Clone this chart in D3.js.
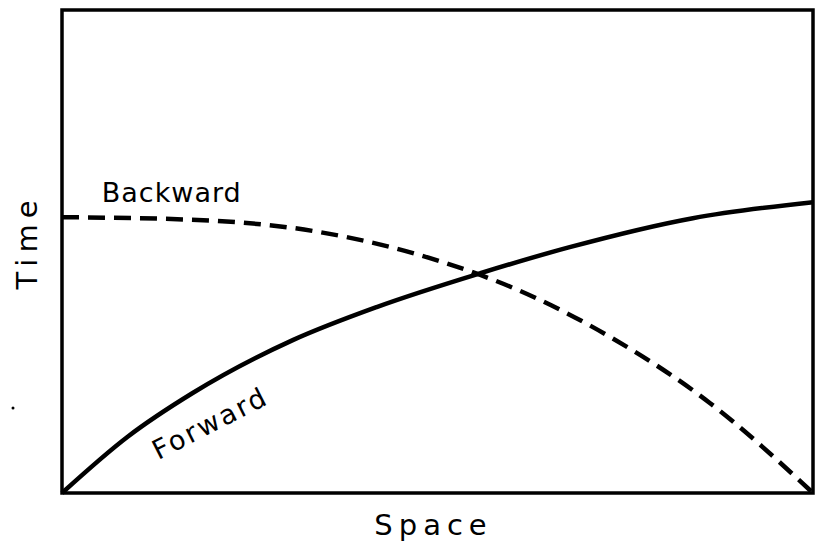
<!DOCTYPE html>
<html>
<head>
<meta charset="utf-8">
<script src="https://cdn.jsdelivr.net/npm/d3@7"></script>
<style>
  body { margin: 0; background: #fff; }
  text { font-family: "DejaVu Sans", sans-serif; fill: #000; }
</style>
</head>
<body>
<div id="chart"></div>
<script>
// Values (space 0-100, time 0-100)
const forwardSpace = [0, 8.7, 17.4, 30.8, 41.9, 55.7, 67.6, 84.0, 100];
const forwardTime  = [0, 11.6, 20.7, 31.7, 38.5, 45.5, 50.9, 56.9, 60.2];
const backwardSpace = [0, 17.0, 34.4, 50.7, 59.7, 73.0, 86.3, 100];
const backwardTime  = [57.1, 56.6, 54.0, 47.8, 42.7, 32.3, 18.6, 0];

const width = 818;
const height = 549;
const margin = {top: 10, right: 5, bottom: 56, left: 62};

const svg = d3.select("#chart")
    .append("svg")
    .attr("width", width)
    .attr("height", height)
    .attr("viewBox", [0, 0, width, height]);

const x = d3.scaleLinear([0, 100], [margin.left, width - margin.right]);
const y = d3.scaleLinear([0, 100], [height - margin.bottom, margin.top]);

const line = d3.line()
    .x(d => x(d[0]))
    .y(d => y(d[1]))
    .curve(d3.curveMonotoneX);

// Frame
svg.append("rect")
    .attr("x", x(0))
    .attr("y", y(100))
    .attr("width", x(100) - x(0))
    .attr("height", y(0) - y(100))
    .attr("fill", "none")
    .attr("stroke", "#000")
    .attr("stroke-width", 3.5);

// Backward (dashed)
svg.append("path")
    .datum(d3.zip(backwardSpace, backwardTime))
    .attr("fill", "none")
    .attr("stroke", "#000")
    .attr("stroke-width", 4.5)
    .attr("stroke-dasharray", "17,9")
    .attr("d", line);

// Forward (solid)
svg.append("path")
    .datum(d3.zip(forwardSpace, forwardTime))
    .attr("fill", "none")
    .attr("stroke", "#000")
    .attr("stroke-width", 4.5)
    .attr("d", line);

// Curve labels
svg.append("text")
    .attr("x", x(5.3))
    .attr("y", y(60.2))
    .attr("font-size", 27)
    .attr("letter-spacing", 1)
    .text("Backward");

svg.append("text")
    .attr("transform", `translate(${x(12.8)},${y(6.8)}) rotate(-27)`)
    .attr("font-size", 27)
    .attr("letter-spacing", 2.5)
    .text("Forward");

// Axis titles
svg.append("text")
    .attr("x", x(50) - 4)
    .attr("y", 535)
    .attr("text-anchor", "middle")
    .attr("font-size", 29)
    .attr("letter-spacing", 6)
    .text("Space");

svg.append("text")
    .attr("transform", "translate(37,242) rotate(-90)")
    .attr("text-anchor", "middle")
    .attr("font-size", 29)
    .attr("letter-spacing", 6)
    .text("Time");

// small speck left of the frame
svg.append("circle")
    .attr("cx", 13)
    .attr("cy", 408)
    .attr("r", 1.5)
    .attr("fill", "#000");
</script>
</body>
</html>
